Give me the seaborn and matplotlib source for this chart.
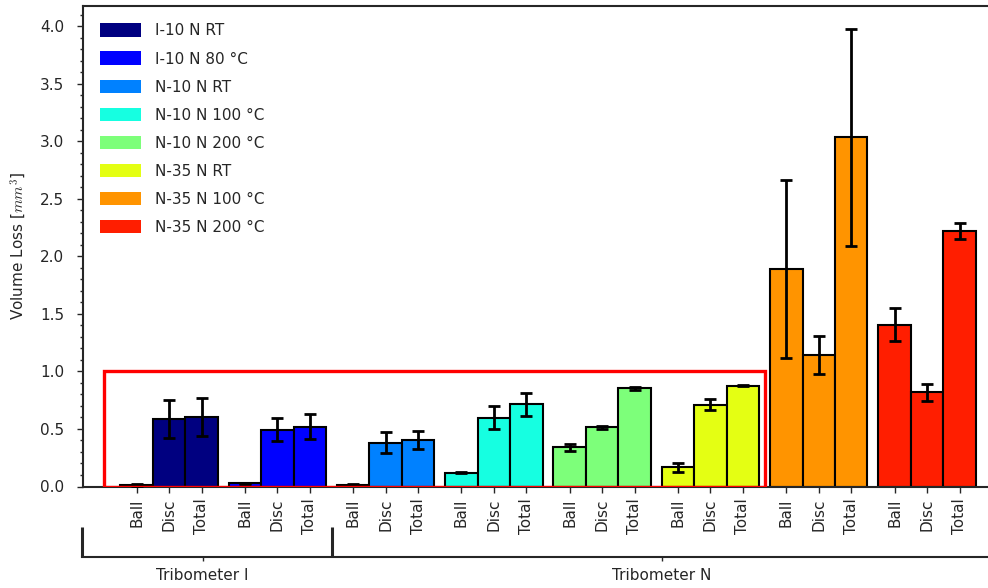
import numpy as np
import pandas as pd
import matplotlib
matplotlib.use("Agg")
import matplotlib.pyplot as plt
from matplotlib.patches import Patch, Rectangle
import seaborn as sns

# Wear volume per test condition: ball, disc and total (mean and std)
conditions = ["I-10 N RT", "I-10 N 80 °C", "N-10 N RT", "N-10 N 100 °C",
              "N-10 N 200 °C", "N-35 N RT", "N-35 N 100 °C", "N-35 N 200 °C"]
parts = ["Ball", "Disc", "Total"]

ball_mean = [0.012, 0.027, 0.016, 0.120, 0.341, 0.167, 1.891, 1.407]
ball_std = [0.006, 0.006, 0.006, 0.003, 0.030, 0.040, 0.775, 0.145]
disc_mean = [0.587, 0.494, 0.381, 0.596, 0.515, 0.711, 1.143, 0.820]
disc_std = [0.165, 0.100, 0.090, 0.100, 0.015, 0.050, 0.163, 0.075]
total_mean = [0.607, 0.520, 0.404, 0.715, 0.854, 0.877, 3.034, 2.222]
total_std = [0.165, 0.110, 0.080, 0.100, 0.012, 0.005, 0.940, 0.070]

tribometers = ["Tribometer I", "Tribometer N"]
tribometer_bounds = [-0.8, 1.5, 7.6]
tribometer_label_pos = [0.31, 4.55]

sns.set_theme(style="ticks")
plt.rcParams["font.family"] = ["DejaVu Sans"]
plt.rcParams["mathtext.fontset"] = "cm"
plt.rcParams["axes.linewidth"] = 1.5

colors = [plt.cm.jet(i / 8) for i in range(8)]
width = 0.3

rows = []
for g, cond in enumerate(conditions):
    means = [ball_mean[g], disc_mean[g], total_mean[g]]
    stds = [ball_std[g], disc_std[g], total_std[g]]
    for k, part in enumerate(parts):
        rows.append({"pos": round(g + (k - 1) * width, 2), "condition": cond,
                     "part": part, "mean": means[k], "std": stds[k]})
df = pd.DataFrame(rows)

W, H = 988, 588
fig = plt.figure(figsize=(W / 100, H / 100), dpi=100)
x0, x1 = 82.5, 992.0
y0, y1 = 486.5, 6.3
ax = fig.add_axes([x0 / W, 1 - y0 / H, (x1 - x0) / W, (y0 - y1) / H])

sns.barplot(data=df, x="pos", y="mean", hue="condition", hue_order=conditions,
            palette=colors, native_scale=True, dodge=False, width=1.0,
            errorbar=None, edgecolor="black", linewidth=1.5, legend=False,
            saturation=1, ax=ax)
ax.errorbar(df["pos"], df["mean"], yerr=df["std"], fmt="none", ecolor="black",
            elinewidth=2, capsize=4, capthick=2, zorder=3)

# Highlighted region of low-load tests
ax.add_patch(Rectangle((-0.6, 0), 6.1, 1.0, fill=False, edgecolor="red",
                       linewidth=2.4, zorder=4))

ax.set_xlim(tribometer_bounds[0], tribometer_bounds[-1])
ax.set_ylim(0, 1.05 * max(m + s for m, s in zip(df["mean"], df["std"])))
ax.set_xticks(df["pos"])
ax.set_xticklabels(df["part"], rotation=90, fontsize=11)
ax.set_yticks(np.arange(0, 4.01, 0.5))
ax.set_yticklabels([f"{v:.1f}" for v in np.arange(0, 4.01, 0.5)], fontsize=11)
ax.yaxis.set_minor_locator(matplotlib.ticker.MultipleLocator(0.1))
ax.tick_params(axis="x", direction="out", length=4, width=1, pad=4.5)
ax.tick_params(axis="y", which="major", direction="out", length=4, width=1, pad=9)
ax.tick_params(axis="y", which="minor", direction="out", length=2.5, width=1)
ax.set_xlabel("")
ax.set_ylabel(r"Volume Loss [$mm^3$]", fontsize=11, labelpad=9)
ax.spines["right"].set_visible(False)

handles = [Patch(facecolor=c, edgecolor="none", label=l) for c, l in zip(colors, conditions)]
ax.legend(handles=handles, loc="upper left", frameon=False, fontsize=11,
          handlelength=2.7, handleheight=1.0, handletextpad=0.95,
          labelspacing=0.85, borderaxespad=0.72)

# Secondary axis grouping the tests by tribometer
ax2 = ax.twiny()
ax2.set_xlim(ax.get_xlim())
ax2.xaxis.set_ticks_position("bottom")
ax2.xaxis.set_label_position("bottom")
ax2.spines["bottom"].set_position(("outward", 51))
for s in ["top", "left", "right"]:
    ax2.spines[s].set_visible(False)
ax2.spines["bottom"].set_linewidth(1.5)
ax2.set_xticks(tribometer_bounds)
ax2.set_xticklabels([""] * len(tribometer_bounds))
ax2.set_xticks(tribometer_label_pos, minor=True)
ax2.set_xticklabels(tribometers, minor=True, fontsize=11)
ax2.tick_params(axis="x", which="major", direction="in", length=21.5, width=2.2)
ax2.tick_params(axis="x", which="minor", direction="out", length=3, width=1, pad=4.5)

fig.savefig("out.png", dpi=100)
